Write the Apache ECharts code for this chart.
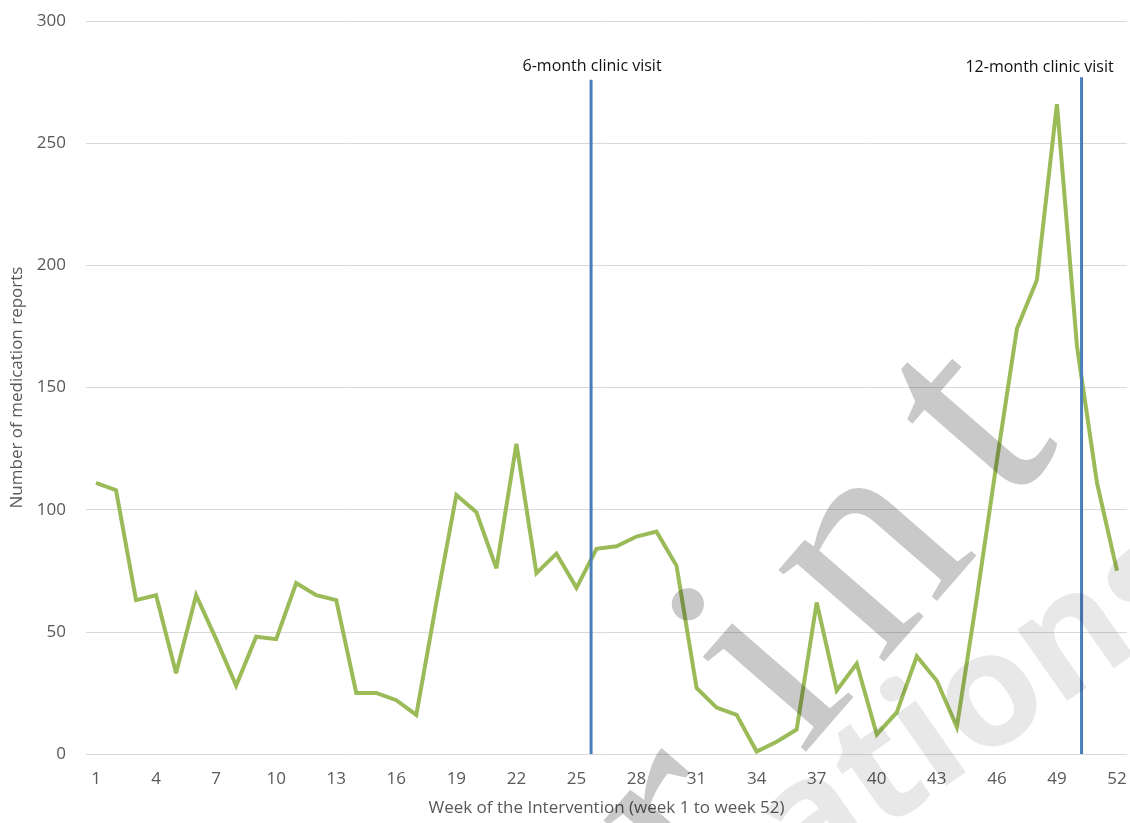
<!DOCTYPE html>
<html>
<head>
<meta charset="utf-8">
<script src="https://cdn.jsdelivr.net/npm/echarts@6/dist/echarts.min.js"></script>
<style>
  html, body { margin: 0; padding: 0; background: #ffffff; }
  #chart { width: 1130px; height: 823px; }
</style>
</head>
<body>
<div id="chart"></div>
<script>
// Weekly counts of medication reports over the 52-week intervention
const weeks = ['1','2','3','4','5','6','7','8','9','10','11','12','13','14','15','16','17','18','19','20',
  '21','22','23','24','25','26','27','28','29','30','31','32','33','34','35','36','37','38','39','40',
  '41','42','43','44','45','46','47','48','49','50','51','52'];
const reports = [111, 108, 63, 65, 33, 65, 47, 28, 48, 47, 70, 65, 63, 25, 25, 22, 16, 62, 106, 99,
  76, 127, 74, 82, 68, 84, 85, 89, 91, 77, 27, 19, 16, 1, 5, 10, 62, 26, 37, 8,
  17, 40, 30, 11, 64, 120, 174, 194, 266, 167, 111, 75];

// Clinic visits marked as vertical lines (position in weeks, height of the marker line)
const visitWeeks = [25.73, 50.23];
const visitTops = [276, 277];
const visitLabels = ['6-month clinic visit', '12-month clinic visit'];

const FONT = '"Open Sans", "Noto Sans", sans-serif';
const chart = echarts.init(document.getElementById('chart'), null, { renderer: 'canvas' });

const visitSeries = visitWeeks.map((w, i) => ({
  name: visitLabels[i],
  type: 'line',
  xAxisIndex: 1,
  yAxisIndex: 0,
  data: [[w, 0], [w, visitTops[i]]],
  symbol: 'none',
  silent: true,
  z: 3,
  lineStyle: { color: '#4a7ebb', width: 3 }
}));

chart.setOption({
  animation: false,
  backgroundColor: '#ffffff',
  grid: { left: 86, right: 3, top: 21, bottom: 69, containLabel: false },
  xAxis: [
    {
      type: 'category',
      data: weeks,
      boundaryGap: true,
      axisLine: { show: false },
      axisTick: { show: false },
      splitLine: { show: false },
      axisLabel: { interval: 2, color: '#595959', fontSize: 17, fontFamily: FONT, margin: 17 },
      name: 'Week of the Intervention (week 1 to week 52)',
      nameLocation: 'middle',
      nameGap: 46,
      nameTextStyle: { color: '#595959', fontSize: 17, fontFamily: FONT }
    },
    {
      type: 'value',
      min: 0.5,
      max: 52.5,
      show: false
    }
  ],
  yAxis: {
    type: 'value',
    min: 0,
    max: 300,
    interval: 50,
    axisLine: { show: false },
    axisTick: { show: false },
    splitLine: { lineStyle: { color: '#d9d9d9', width: 1 } },
    axisLabel: { color: '#595959', fontSize: 17, fontFamily: FONT, margin: 20 },
    name: 'Number of medication reports',
    nameLocation: 'middle',
    nameGap: 51,
    nameTextStyle: { color: '#595959', fontSize: 17, fontFamily: FONT }
  },
  series: [
    {
      name: 'Medication reports',
      type: 'line',
      data: reports,
      symbol: 'none',
      z: 2,
      lineStyle: { color: '#9bbb59', width: 4, join: 'miter', miterLimit: 4 }
    }
  ].concat(visitSeries)
});

// Captions above the visit lines, plus the preprint watermark drawn over the plot
const labelShift = [1, -42];
const labelGap = [13, 10];
const captions = visitWeeks.map((w, i) => {
  const p = chart.convertToPixel({ xAxisIndex: 1, yAxisIndex: 0 }, [w, visitTops[i]]);
  return {
    type: 'text',
    x: p[0] + labelShift[i],
    y: p[1] - labelGap[i],
    silent: true,
    style: {
      text: visitLabels[i],
      fill: '#111111',
      font: '16px ' + FONT,
      align: 'center',
      verticalAlign: 'middle'
    }
  };
});

const SERIF = '305px "Liberation Serif", "DejaVu Serif", serif';
const serifRot = 49 * Math.PI / 180;
const serifLetters = [
  { ch: 'r', x: 678, y: 826 },
  { ch: 'i', x: 769, y: 672 },
  { ch: 'n', x: 869, y: 557 },
  { ch: 't', x: 974, y: 425 }
].map(l => ({
  type: 'text', x: l.x, y: l.y, rotation: serifRot, silent: true, z: 100,
  style: { text: l.ch, font: SERIF, fill: 'rgba(0,0,0,0.21)', align: 'center', verticalAlign: 'middle' }
}));

const sansWord = {
  type: 'text', x: 978, y: 708, rotation: 35 * Math.PI / 180, silent: true, z: 99,
  style: { text: 'ations', font: 'bold 160px ' + FONT, fill: 'rgba(0,0,0,0.09)', align: 'center', verticalAlign: 'middle' }
};

chart.setOption({ graphic: captions.concat(serifLetters, [sansWord]) });
</script>
</body>
</html>
